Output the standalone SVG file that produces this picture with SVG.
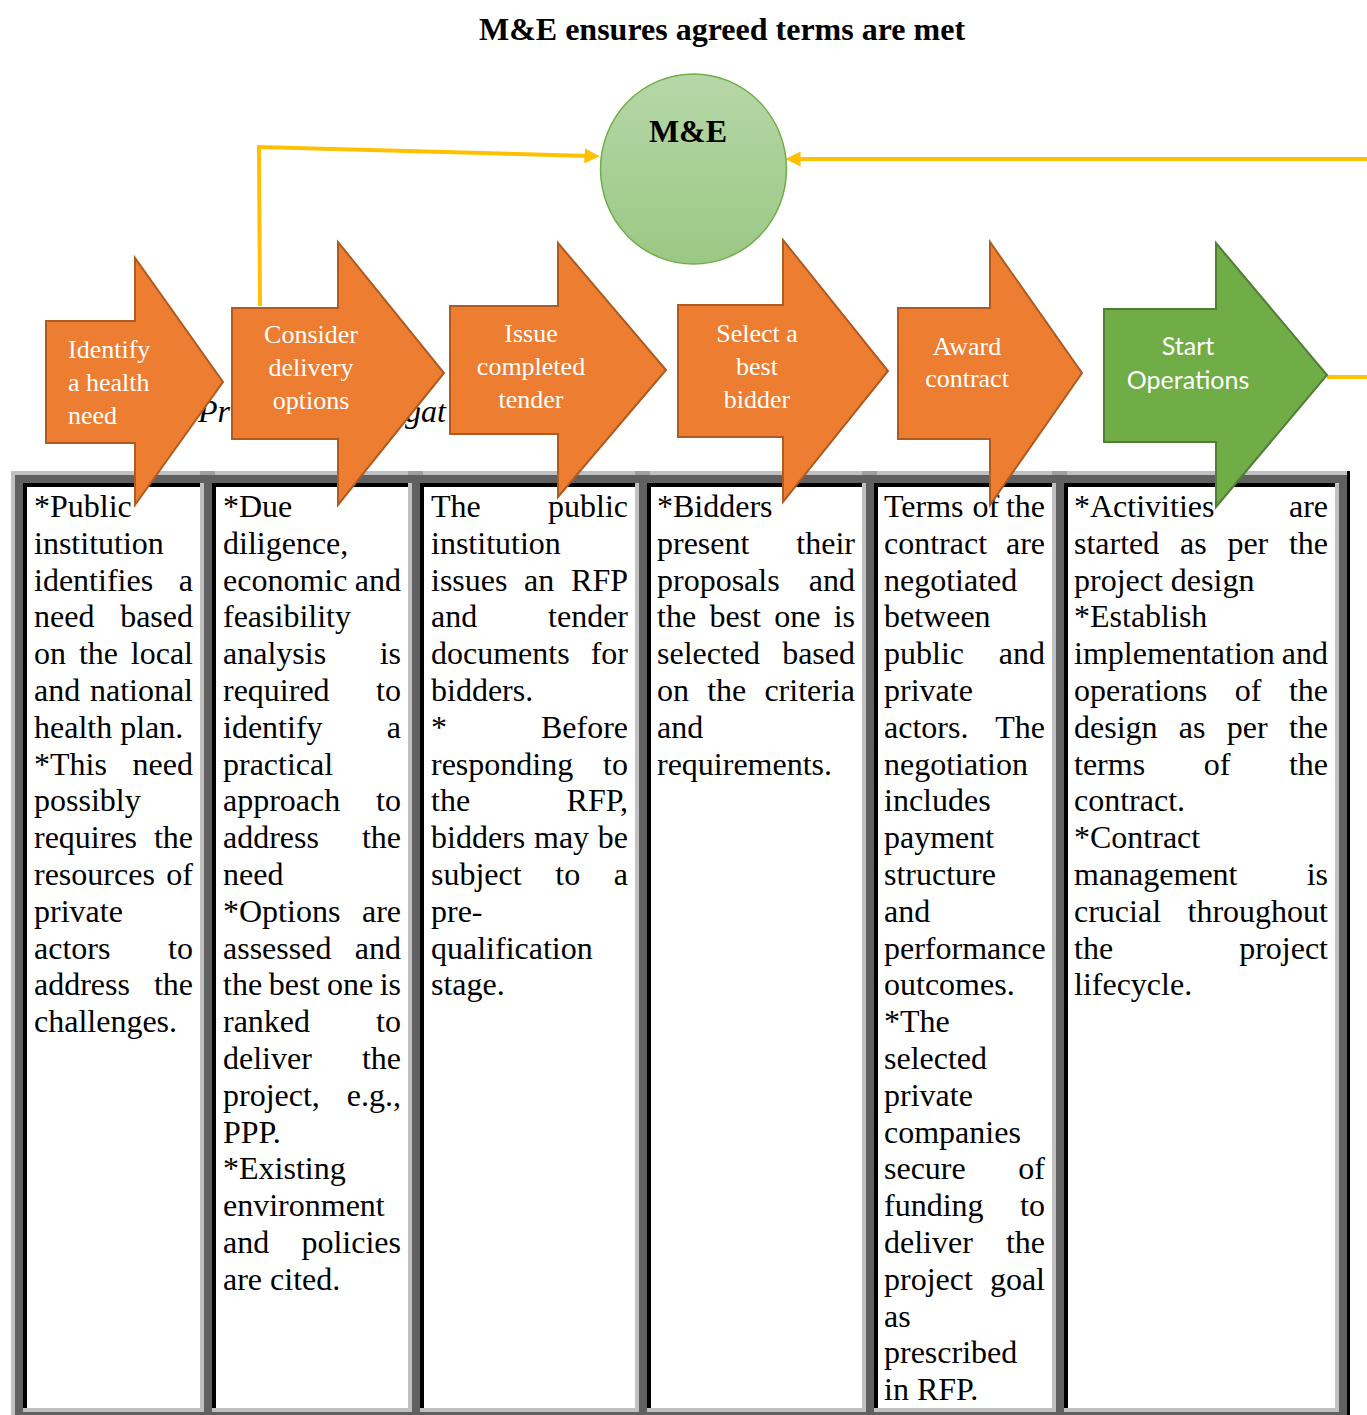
<svg xmlns="http://www.w3.org/2000/svg" width="1367" height="1415" viewBox="0 0 1367 1415">
  <defs>
    <style>
      .title { font: bold 32px "Liberation Serif", "Times New Roman", serif; fill: #000; text-anchor: middle; }
      .body { font-family: "Liberation Serif", "Times New Roman", serif; font-size: 32px; fill: #000; }
      .r { text-anchor: end; }
      .cap { font-family: "Liberation Serif", "Times New Roman", serif; font-size: 32px; font-style: italic; fill: #000; }
      .step { stroke-width: 2; stroke-linejoin: miter; }
      .orange { fill: #ED7D31; stroke: #AE5A21; }
      .green { fill: #70AD47; stroke: #507E32; }
      .lbl { font-family: "Liberation Serif", "Times New Roman", serif; font-size: 26px; fill: #fff; }
      .lbl-c { text-anchor: middle; }
      .lbl-sans { font-family: Lato, "Open Sans", sans-serif; font-size: 25px; fill: #fff; text-anchor: middle; }
      .link { fill: none; stroke: #FFC000; stroke-width: 4; }
      .frame-light { fill: #C0C0C0; }
      .frame-dark { fill: #606060; }
      .cell-edge { fill: #000; }
      .cell { fill: #fff; }
      .joint { fill: #9E9E9E; }
    </style>
    <linearGradient id="meFill" x1="0" y1="0" x2="0" y2="1">
      <stop offset="0" stop-color="#B6D7A8"/>
      <stop offset="1" stop-color="#9BC884"/>
    </linearGradient>
    <marker id="head" viewBox="0 0 10 10" refX="3" refY="5" markerWidth="3.8" markerHeight="3.8" orient="auto" markerUnits="strokeWidth">
      <path d="M0,0 L10,5 L0,10 Z" fill="#FFC000"/>
    </marker>
  </defs>

  <rect x="0" y="0" width="1367" height="1415" fill="#fff"/>

  <text class="title" x="722" y="40">M&amp;E ensures agreed terms are met</text>

  <!-- Table frame -->
  <g id="table">
    <rect x="11" y="471" width="1339" height="960" fill="#000"/>
    <rect class="frame-light" x="11" y="471" width="1336" height="960"/>
    <rect class="frame-dark" x="15" y="475" width="1332" height="960"/>
    <rect class="joint" x="200" y="471" width="15" height="4"/>
    <rect class="joint" x="408" y="471" width="15" height="4"/>
    <rect class="joint" x="635" y="471" width="15" height="4"/>
    <rect class="joint" x="862" y="471" width="15" height="4"/>
    <rect class="joint" x="1052" y="471" width="15" height="4"/>

    <!-- cells: light right/bottom edge, dark top/left edge, white interior -->
    <rect class="frame-light" x="23" y="483" width="181" height="929"/>
    <rect class="cell-edge" x="23" y="483" width="177" height="925"/>
    <rect class="cell" x="27" y="487" width="173" height="921"/>

    <rect class="frame-light" x="212" y="483" width="200" height="929"/>
    <rect class="cell-edge" x="212" y="483" width="196" height="925"/>
    <rect class="cell" x="216" y="487" width="192" height="921"/>

    <rect class="frame-light" x="420" y="483" width="219" height="929"/>
    <rect class="cell-edge" x="420" y="483" width="215" height="925"/>
    <rect class="cell" x="424" y="487" width="211" height="921"/>

    <rect class="frame-light" x="647" y="483" width="219" height="929"/>
    <rect class="cell-edge" x="647" y="483" width="215" height="925"/>
    <rect class="cell" x="651" y="487" width="211" height="921"/>

    <rect class="frame-light" x="874" y="483" width="182" height="929"/>
    <rect class="cell-edge" x="874" y="483" width="178" height="925"/>
    <rect class="cell" x="878" y="487" width="174" height="921"/>

    <rect class="frame-light" x="1064" y="483" width="275" height="929"/>
    <rect class="cell-edge" x="1064" y="483" width="271" height="925"/>
    <rect class="cell" x="1068" y="487" width="267" height="921"/>
  </g>

  <!-- Column 1 -->
  <g id="col-1" class="body">
    <text x="34" y="517">*Public</text>
    <text x="34" y="553.8">institution</text>
    <text x="34" y="590.6">identifies</text><text class="r" x="193" y="590.6">a</text>
    <text x="34" y="627.4">need</text><text class="r" x="193" y="627.4">based</text>
    <text x="34" y="664.2">on</text><text x="78.9" y="664.2">the</text><text class="r" x="193" y="664.2">local</text>
    <text x="34" y="701">and</text><text class="r" x="193" y="701">national</text>
    <text x="34" y="737.8">health plan.</text>
    <text x="34" y="774.6">*This</text><text class="r" x="193" y="774.6">need</text>
    <text x="34" y="811.4">possibly</text>
    <text x="34" y="848.2">requires</text><text class="r" x="193" y="848.2">the</text>
    <text x="34" y="885">resources</text><text class="r" x="193" y="885">of</text>
    <text x="34" y="921.8">private</text>
    <text x="34" y="958.6">actors</text><text class="r" x="193" y="958.6">to</text>
    <text x="34" y="995.4">address</text><text class="r" x="193" y="995.4">the</text>
    <text x="34" y="1032.2">challenges.</text>
  </g>

  <!-- Column 2 -->
  <g id="col-2" class="body">
    <text x="223" y="517">*Due</text>
    <text x="223" y="553.8">diligence,</text>
    <text x="223" y="590.6">economic</text><text class="r" x="401" y="590.6">and</text>
    <text x="223" y="627.4">feasibility</text>
    <text x="223" y="664.2">analysis</text><text class="r" x="401" y="664.2">is</text>
    <text x="223" y="701">required</text><text class="r" x="401" y="701">to</text>
    <text x="223" y="737.8">identify</text><text class="r" x="401" y="737.8">a</text>
    <text x="223" y="774.6">practical</text>
    <text x="223" y="811.4">approach</text><text class="r" x="401" y="811.4">to</text>
    <text x="223" y="848.2">address</text><text class="r" x="401" y="848.2">the</text>
    <text x="223" y="885">need</text>
    <text x="223" y="921.8">*Options</text><text class="r" x="401" y="921.8">are</text>
    <text x="223" y="958.6">assessed</text><text class="r" x="401" y="958.6">and</text>
    <text x="223" y="995.4">the</text><text x="268.7" y="995.4">best</text><text x="326.9" y="995.4">one</text><text class="r" x="401" y="995.4">is</text>
    <text x="223" y="1032.2">ranked</text><text class="r" x="401" y="1032.2">to</text>
    <text x="223" y="1069">deliver</text><text class="r" x="401" y="1069">the</text>
    <text x="223" y="1105.8">project,</text><text class="r" x="401" y="1105.8">e.g.,</text>
    <text x="223" y="1142.6">PPP.</text>
    <text x="223" y="1179.4">*Existing</text>
    <text x="223" y="1216.2">environment</text>
    <text x="223" y="1253">and</text><text class="r" x="401" y="1253">policies</text>
    <text x="223" y="1289.8">are cited.</text>
  </g>

  <!-- Column 3 -->
  <g id="col-3" class="body">
    <text x="431" y="517">The</text><text class="r" x="628" y="517">public</text>
    <text x="431" y="553.8">institution</text>
    <text x="431" y="590.6">issues</text><text x="524.1" y="590.6">an</text><text class="r" x="628" y="590.6">RFP</text>
    <text x="431" y="627.4">and</text><text class="r" x="628" y="627.4">tender</text>
    <text x="431" y="664.2">documents</text><text class="r" x="628" y="664.2">for</text>
    <text x="431" y="701">bidders.</text>
    <text x="431" y="737.8">*</text><text class="r" x="628" y="737.8">Before</text>
    <text x="431" y="774.6">responding</text><text class="r" x="628" y="774.6">to</text>
    <text x="431" y="811.4">the</text><text class="r" x="628" y="811.4">RFP,</text>
    <text x="431" y="848.2">bidders</text><text x="534" y="848.2">may</text><text class="r" x="628" y="848.2">be</text>
    <text x="431" y="885">subject</text><text x="555.3" y="885">to</text><text class="r" x="628" y="885">a</text>
    <text x="431" y="921.8">pre-</text>
    <text x="431" y="958.6">qualification</text>
    <text x="431" y="995.4">stage.</text>
  </g>

  <!-- Column 4 -->
  <g id="col-4" class="body">
    <text x="657" y="517">*Bidders</text>
    <text x="657" y="553.8">present</text><text class="r" x="855" y="553.8">their</text>
    <text x="657" y="590.6">proposals</text><text class="r" x="855" y="590.6">and</text>
    <text x="657" y="627.4">the</text><text x="709.4" y="627.4">best</text><text x="774.2" y="627.4">one</text><text class="r" x="855" y="627.4">is</text>
    <text x="657" y="664.2">selected</text><text class="r" x="855" y="664.2">based</text>
    <text x="657" y="701">on</text><text x="707.2" y="701">the</text><text class="r" x="855" y="701">criteria</text>
    <text x="657" y="737.8">and</text>
    <text x="657" y="774.6">requirements.</text>
  </g>

  <!-- Column 5 -->
  <g id="col-5" class="body">
    <text x="884" y="517">Terms</text><text x="972.5" y="517">of</text><text class="r" x="1045" y="517">the</text>
    <text x="884" y="553.8">contract</text><text class="r" x="1045" y="553.8">are</text>
    <text x="884" y="590.6">negotiated</text>
    <text x="884" y="627.4">between</text>
    <text x="884" y="664.2">public</text><text class="r" x="1045" y="664.2">and</text>
    <text x="884" y="701">private</text>
    <text x="884" y="737.8">actors.</text><text class="r" x="1045" y="737.8">The</text>
    <text x="884" y="774.6">negotiation</text>
    <text x="884" y="811.4">includes</text>
    <text x="884" y="848.2">payment</text>
    <text x="884" y="885">structure</text>
    <text x="884" y="921.8">and</text>
    <text x="884" y="958.6">performance</text>
    <text x="884" y="995.4">outcomes.</text>
    <text x="884" y="1032.2">*The</text>
    <text x="884" y="1069">selected</text>
    <text x="884" y="1105.8">private</text>
    <text x="884" y="1142.6">companies</text>
    <text x="884" y="1179.4">secure</text><text class="r" x="1045" y="1179.4">of</text>
    <text x="884" y="1216.2">funding</text><text class="r" x="1045" y="1216.2">to</text>
    <text x="884" y="1253">deliver</text><text class="r" x="1045" y="1253">the</text>
    <text x="884" y="1289.8">project</text><text class="r" x="1045" y="1289.8">goal</text>
    <text x="884" y="1326.6">as</text>
    <text x="884" y="1363.4">prescribed</text>
    <text x="884" y="1400.2">in RFP.</text>
  </g>

  <!-- Column 6 -->
  <g id="col-6" class="body">
    <text x="1074" y="517">*Activities</text><text class="r" x="1328" y="517">are</text>
    <text x="1074" y="553.8">started</text><text x="1180" y="553.8">as</text><text x="1227.4" y="553.8">per</text><text class="r" x="1328" y="553.8">the</text>
    <text x="1074" y="590.6">project design</text>
    <text x="1074" y="627.4">*Establish</text>
    <text x="1074" y="664.2">implementation</text><text class="r" x="1328" y="664.2">and</text>
    <text x="1074" y="701">operations</text><text x="1234.8" y="701">of</text><text class="r" x="1328" y="701">the</text>
    <text x="1074" y="737.8">design</text><text x="1178.8" y="737.8">as</text><text x="1226.7" y="737.8">per</text><text class="r" x="1328" y="737.8">the</text>
    <text x="1074" y="774.6">terms</text><text x="1203.7" y="774.6">of</text><text class="r" x="1328" y="774.6">the</text>
    <text x="1074" y="811.4">contract.</text>
    <text x="1074" y="848.2">*Contract</text>
    <text x="1074" y="885">management</text><text class="r" x="1328" y="885">is</text>
    <text x="1074" y="921.8">crucial</text><text class="r" x="1328" y="921.8">throughout</text>
    <text x="1074" y="958.6">the</text><text class="r" x="1328" y="958.6">project</text>
    <text x="1074" y="995.4">lifecycle.</text>
  </g>

  <!-- Italic caption pieces left visible between the step arrows -->
  <g id="caption">
    <text class="cap" x="198" y="422">Pr</text>
    <text class="cap" x="405" y="422">gat</text>
  </g>

  <!-- Feedback links into the M&E node -->
  <g id="connectors">
    <path class="link" d="M260,306 L259,147 L589,156" marker-end="url(#head)"/>
    <path class="link" d="M1367,159 L796,159" marker-end="url(#head)"/>
    <path class="link" d="M1327,377 L1367,377"/>
  </g>

  <g id="node-me">
    <ellipse cx="693.5" cy="169" rx="93" ry="95" fill="url(#meFill)" stroke="#70AD47" stroke-width="1.5"/>
    <text class="title" x="688" y="142">M&amp;E</text>
  </g>

  <g id="step-1">
    <path class="step orange" d="M46,321 H135 V258 L223,382 L135,505 V443 H46 Z"/>
    <text class="lbl" x="68" y="358">Identify</text>
    <text class="lbl" x="68" y="391">a health</text>
    <text class="lbl" x="68" y="424">need</text>
  </g>

  <g id="step-2">
    <path class="step orange" d="M232,308 H338 V242 L444,373 L338,505 V439 H232 Z"/>
    <text class="lbl lbl-c" x="311" y="343">Consider</text>
    <text class="lbl lbl-c" x="311" y="376">delivery</text>
    <text class="lbl lbl-c" x="311" y="409">options</text>
  </g>

  <g id="step-3">
    <path class="step orange" d="M450,306 H558 V243 L666,370 L558,497 V434 H450 Z"/>
    <text class="lbl lbl-c" x="531" y="342">Issue</text>
    <text class="lbl lbl-c" x="531" y="375">completed</text>
    <text class="lbl lbl-c" x="531" y="408">tender</text>
  </g>

  <g id="step-4">
    <path class="step orange" d="M678,305 H783 V240 L888,371 L783,502 V437 H678 Z"/>
    <text class="lbl lbl-c" x="757" y="342">Select a</text>
    <text class="lbl lbl-c" x="757" y="375">best</text>
    <text class="lbl lbl-c" x="757" y="408">bidder</text>
  </g>

  <g id="step-5">
    <path class="step orange" d="M898,308 H990 V242 L1082,373 L990,505 V439 H898 Z"/>
    <text class="lbl lbl-c" x="967" y="355">Award</text>
    <text class="lbl lbl-c" x="967" y="387">contract</text>
  </g>

  <g id="step-6">
    <path class="step green" d="M1104,309 H1216 V243 L1327,375 L1216,507 V442 H1104 Z"/>
    <text class="lbl-sans" x="1188" y="355">Start</text>
    <text class="lbl-sans" x="1188" y="389">Operations</text>
  </g>
</svg>
